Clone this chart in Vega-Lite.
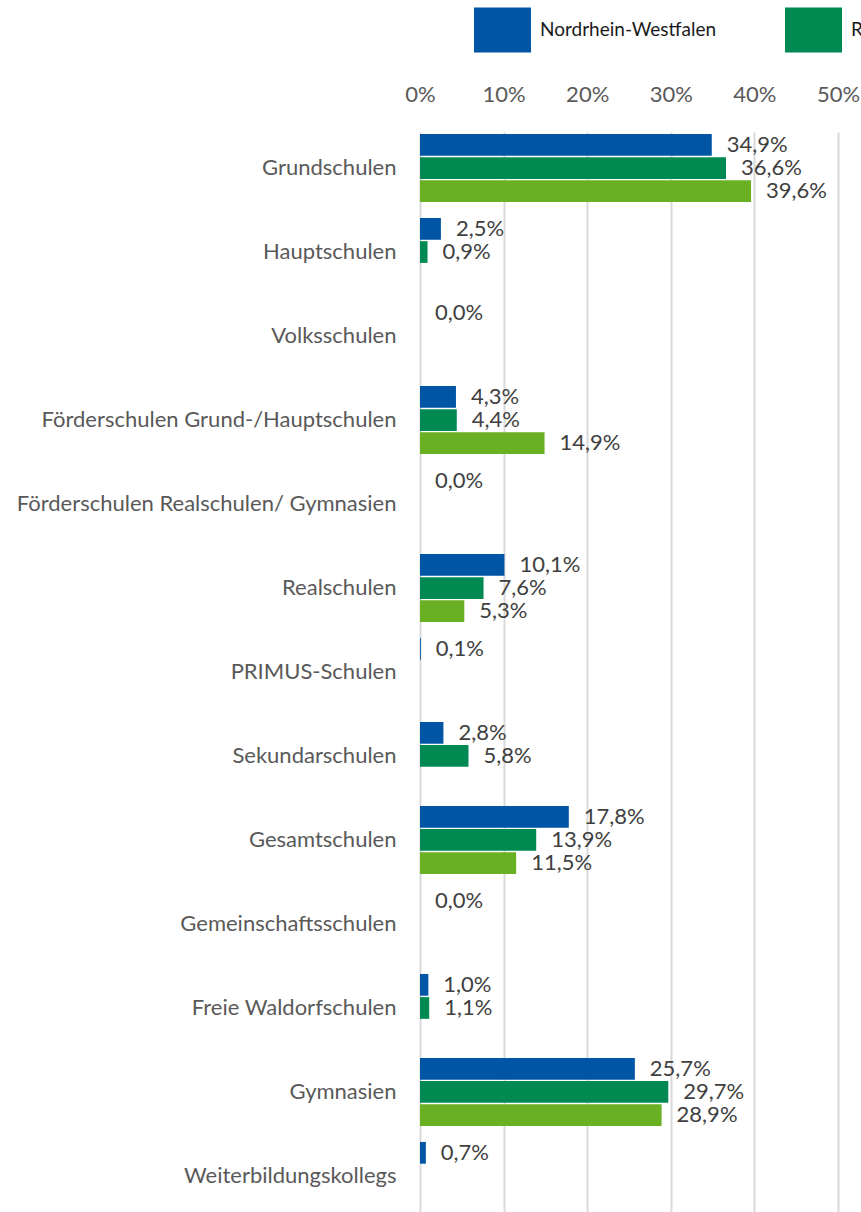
{
  "$schema": "https://vega.github.io/schema/vega-lite/v6.json",
  "autosize": {"type": "none"},
  "width": 418,
  "height": 1080,
  "padding": {"left": 420, "top": 132, "right": 23, "bottom": 0},
  "background": "white",
  "config": {
    "locale": {"number": {"decimal": ",", "thousands": ".", "grouping": [3], "currency": ["", " €"]}},
    "view": {"stroke": null},
    "font": "Lato"
  },
  "data": {
    "values": [
      {"schule": "Grundschulen", "gebiet": "Nordrhein-Westfalen", "anteil": 0.349},
      {"schule": "Grundschulen", "gebiet": "Regierungsbezirk Köln", "anteil": 0.366},
      {"schule": "Grundschulen", "gebiet": "Kreis", "anteil": 0.396},
      {"schule": "Hauptschulen", "gebiet": "Nordrhein-Westfalen", "anteil": 0.025},
      {"schule": "Hauptschulen", "gebiet": "Regierungsbezirk Köln", "anteil": 0.009},
      {"schule": "Volksschulen", "gebiet": "Nordrhein-Westfalen", "anteil": 0.0},
      {"schule": "Förderschulen Grund-/Hauptschulen", "gebiet": "Nordrhein-Westfalen", "anteil": 0.043},
      {"schule": "Förderschulen Grund-/Hauptschulen", "gebiet": "Regierungsbezirk Köln", "anteil": 0.044},
      {"schule": "Förderschulen Grund-/Hauptschulen", "gebiet": "Kreis", "anteil": 0.149},
      {"schule": "Förderschulen Realschulen/ Gymnasien", "gebiet": "Nordrhein-Westfalen", "anteil": 0.0},
      {"schule": "Realschulen", "gebiet": "Nordrhein-Westfalen", "anteil": 0.101},
      {"schule": "Realschulen", "gebiet": "Regierungsbezirk Köln", "anteil": 0.076},
      {"schule": "Realschulen", "gebiet": "Kreis", "anteil": 0.053},
      {"schule": "PRIMUS-Schulen", "gebiet": "Nordrhein-Westfalen", "anteil": 0.001},
      {"schule": "Sekundarschulen", "gebiet": "Nordrhein-Westfalen", "anteil": 0.028},
      {"schule": "Sekundarschulen", "gebiet": "Regierungsbezirk Köln", "anteil": 0.058},
      {"schule": "Gesamtschulen", "gebiet": "Nordrhein-Westfalen", "anteil": 0.178},
      {"schule": "Gesamtschulen", "gebiet": "Regierungsbezirk Köln", "anteil": 0.139},
      {"schule": "Gesamtschulen", "gebiet": "Kreis", "anteil": 0.115},
      {"schule": "Gemeinschaftsschulen", "gebiet": "Nordrhein-Westfalen", "anteil": 0.0},
      {"schule": "Freie Waldorfschulen", "gebiet": "Nordrhein-Westfalen", "anteil": 0.010},
      {"schule": "Freie Waldorfschulen", "gebiet": "Regierungsbezirk Köln", "anteil": 0.011},
      {"schule": "Gymnasien", "gebiet": "Nordrhein-Westfalen", "anteil": 0.257},
      {"schule": "Gymnasien", "gebiet": "Regierungsbezirk Köln", "anteil": 0.297},
      {"schule": "Gymnasien", "gebiet": "Kreis", "anteil": 0.289},
      {"schule": "Weiterbildungskollegs", "gebiet": "Nordrhein-Westfalen", "anteil": 0.007}
    ]
  },
  "encoding": {
    "y": {
      "field": "schule",
      "type": "nominal",
      "sort": null,
      "scale": {"paddingInner": 0.19, "paddingOuter": 0.024},
      "axis": {
        "title": null,
        "domain": false,
        "ticks": false,
        "labelPadding": 24,
        "labelFontSize": 22,
        "labelColor": "#595959",
        "labelFont": "Lato",
        "labelLimit": 500
      }
    },
    "yOffset": {
      "field": "gebiet",
      "type": "nominal",
      "sort": ["Nordrhein-Westfalen", "Regierungsbezirk Köln", "Kreis"],
      "scale": {"paddingInner": 0.06, "paddingOuter": 0}
    },
    "x": {
      "field": "anteil",
      "type": "quantitative",
      "scale": {"domain": [0, 0.5], "nice": false},
      "axis": {
        "orient": "top",
        "title": null,
        "format": ".0%",
        "values": [0, 0.1, 0.2, 0.3, 0.4, 0.5],
        "domain": false,
        "ticks": false,
        "grid": true,
        "gridColor": "#D9D9D9",
        "gridWidth": 2,
        "labelPadding": 26,
        "labelFontSize": 22,
        "labelColor": "#595959",
        "labelFont": "Lato",
        "labelFlush": false
      }
    }
  },
  "layer": [
    {
      "mark": {"type": "bar", "cornerRadius": 0},
      "encoding": {
        "color": {
          "field": "gebiet",
          "type": "nominal",
          "scale": {
            "domain": ["Nordrhein-Westfalen", "Regierungsbezirk Köln", "Kreis"],
            "range": ["#0055A4", "#008A52", "#6AB023"]
          },
          "legend": {
            "title": null,
            "orient": "none",
            "legendX": 54,
            "legendY": -131,
            "direction": "horizontal",
            "padding": 0,
            "symbolType": "M-1,-0.79H1V0.79H-1Z",
            "symbolSize": 3249,
            "symbolStrokeWidth": 0,
            "symbolOpacity": 1,
            "labelFontSize": 19,
            "labelFont": "Lato",
            "labelColor": "#1a1a1a",
            "labelOffset": 9,
            "columnPadding": 68,
            "labelLimit": 400
          }
        }
      }
    },
    {
      "mark": {
        "type": "text",
        "align": "left",
        "baseline": "middle",
        "dx": 15,
        "fontSize": 22,
        "font": "Lato",
        "color": "#404040"
      },
      "encoding": {
        "text": {"field": "anteil", "type": "quantitative", "format": ".1%"}
      }
    }
  ]
}
